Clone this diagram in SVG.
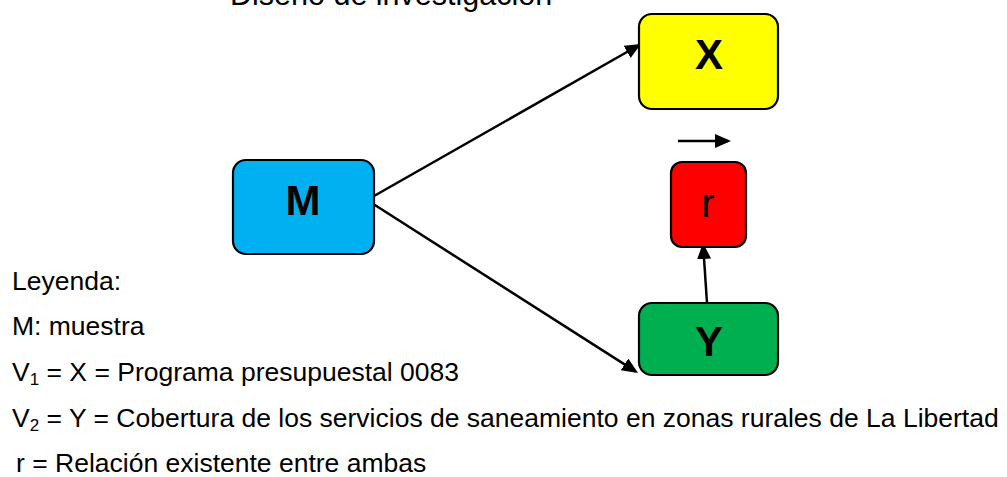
<svg xmlns="http://www.w3.org/2000/svg" width="1007" height="477" viewBox="0 0 1007 477">
<defs>
<marker id="ah" markerUnits="userSpaceOnUse" markerWidth="18" markerHeight="16" refX="13" refY="7" orient="auto">
<path d="M0,0 L16,7 L0,14 z" fill="#000"/>
</marker>
<style>
.node{stroke:#000;stroke-width:2.2}
.lbl{font-family:"Liberation Sans",Arial,sans-serif;font-weight:bold;font-size:42px;text-anchor:middle;fill:#000}
.leg{font-family:"Liberation Sans",Arial,sans-serif;font-size:26.5px;fill:#000}
.sub{font-size:17px}
.conn line{stroke:#000;stroke-width:2.5;marker-end:url(#ah)}
</style>
</defs>
<rect width="1007" height="477" fill="#fff"/>
<text x="230" y="5" style="font-family:'Liberation Sans',Arial,sans-serif;font-size:30.5px;fill:#000">Diseño de investigación</text>
<g class="conn">
<line x1="367" y1="200" x2="638.4" y2="45.5"/>
<line x1="367" y1="200" x2="635.5" y2="371.4"/>
<line x1="707" y1="303" x2="703.2" y2="246"/>
<line x1="678" y1="141" x2="728" y2="141"/>
</g>
<g id="node-X">
<rect class="node" x="639" y="14" width="139" height="95" rx="13" fill="#FFFF00"/>
<text class="lbl" x="709" y="69">X</text>
</g>
<g id="node-M">
<rect class="node" x="233" y="160" width="141" height="94" rx="13" fill="#00B0F0"/>
<text class="lbl" x="303" y="215">M</text>
</g>
<g id="node-r">
<rect class="node" x="671" y="162" width="75" height="85" rx="11" fill="#FF0000"/>
<text x="708" y="217" style="font-family:'Liberation Sans',Arial,sans-serif;font-size:40px;text-anchor:middle;fill:#000">r</text>
</g>
<g id="node-Y">
<rect class="node" x="639" y="303" width="139" height="72" rx="13" fill="#00B050"/>
<text class="lbl" x="709" y="356">Y</text>
</g>
<g id="legend">
<text class="leg" x="12" y="290">Leyenda:</text>
<text class="leg" x="12" y="335">M: muestra</text>
<text class="leg" x="12" y="381">V<tspan class="sub" dy="4">1</tspan><tspan dy="-4"> = X = Programa presupuestal 0083</tspan></text>
<text class="leg" x="12" y="427">V<tspan class="sub" dy="4">2</tspan><tspan dy="-4"> = Y = Cobertura de los servicios de saneamiento en zonas rurales de La Libertad</tspan></text>
<text class="leg" x="16" y="472">r = Relación existente entre ambas</text>
</g>
</svg>
